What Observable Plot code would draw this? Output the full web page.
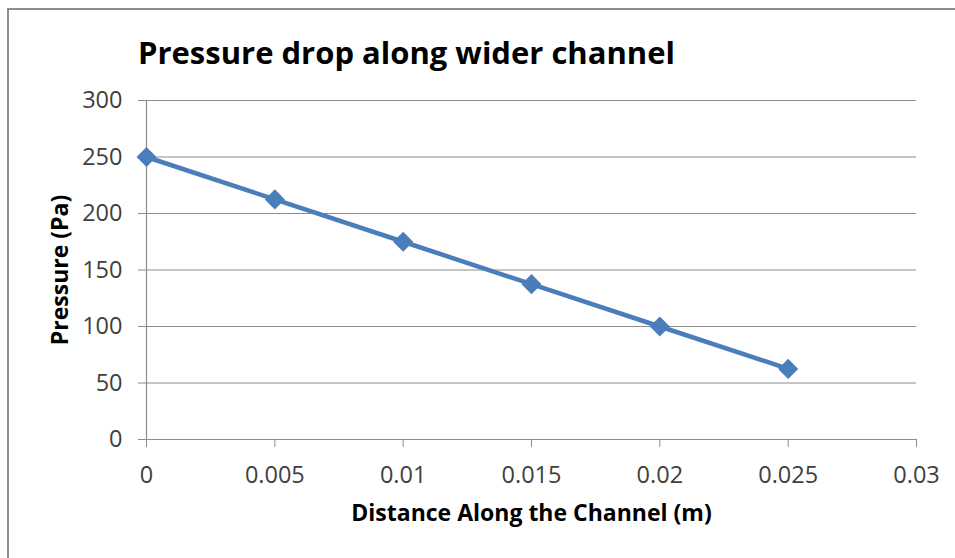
<!DOCTYPE html>
<html>
<head>
<meta charset="utf-8">
<script src="https://cdn.jsdelivr.net/npm/d3@7"></script>
<script src="https://cdn.jsdelivr.net/npm/@observablehq/plot@0.6"></script>
<style>
  html, body { margin: 0; padding: 0; background: #fff; overflow: hidden; }
  #wrap { position: relative; width: 955px; height: 558px; }
  #frame { position: absolute; left: 7px; top: 8px; width: 960px; height: 560px; border: 2px solid #8c8c8c; box-sizing: border-box; }
  #title { position: absolute; left: 138px; top: 37px; line-height: 30px; font-family: "Open Sans", sans-serif; font-weight: bold; font-size: 31px; color: #000; white-space: nowrap; }
  #chart { position: absolute; left: 0; top: 0; }
  g[aria-label="y-axis label"] text, g[aria-label="x-axis label"] text { font-weight: bold; font-size: 23px; fill: #000; }
</style>
</head>
<body>
<div id="wrap">
  <div id="frame"></div>
  <div id="chart"></div>
  <div id="title">Pressure drop along wider channel</div>
</div>
<script>
const distance = [0, 0.005, 0.01, 0.015, 0.02, 0.025];
const pressure = [250, 212.5, 175, 137.5, 100, 62.5];
const xTicks = [0, 0.005, 0.01, 0.015, 0.02, 0.025, 0.03];
const yTicks = [0, 50, 100, 150, 200, 250, 300];

const data = distance.map((d, i) => ({x: d, y: pressure[i]}));
const blue = "#4a7ebb";
const grid = "#8c8c8c";

const chart = Plot.plot({
  width: 955,
  height: 558,
  marginLeft: 146,
  marginRight: 39,
  marginTop: 100,
  marginBottom: 119,
  style: { fontFamily: "'Open Sans', sans-serif", fontSize: "23.5px", color: "#404040", background: "transparent" },
  x: { domain: [0, 0.03] },
  y: { domain: [0, 300] },
  marks: [
    Plot.ruleY(yTicks, { stroke: grid, strokeWidth: 1.2, strokeOpacity: 1 }),
    Plot.ruleX([0], { stroke: grid, strokeWidth: 1.2 }),
    Plot.axisY({ ticks: yTicks, tickSize: 8, tickPadding: 16, tickFormat: d => String(d), stroke: grid, strokeOpacity: 1,
       label: "Pressure (Pa)", labelAnchor: "center", labelArrow: "none", labelOffset: 95 }),
    Plot.axisX({ ticks: xTicks, tickSize: 8, tickPadding: 19, tickFormat: d => String(d), stroke: grid, strokeOpacity: 1,
       label: "Distance Along the Channel (m)", labelAnchor: "center", labelArrow: "none", labelOffset: 81 }),
    Plot.line(data, { x: "x", y: "y", stroke: blue, strokeWidth: 4.5 }),
    Plot.dot(data, { x: "x", y: "y", symbol: "square", rotate: 45, r: 8, fill: blue, stroke: "none" })
  ]
});
document.getElementById("chart").appendChild(chart);
</script>
</body>
</html>
